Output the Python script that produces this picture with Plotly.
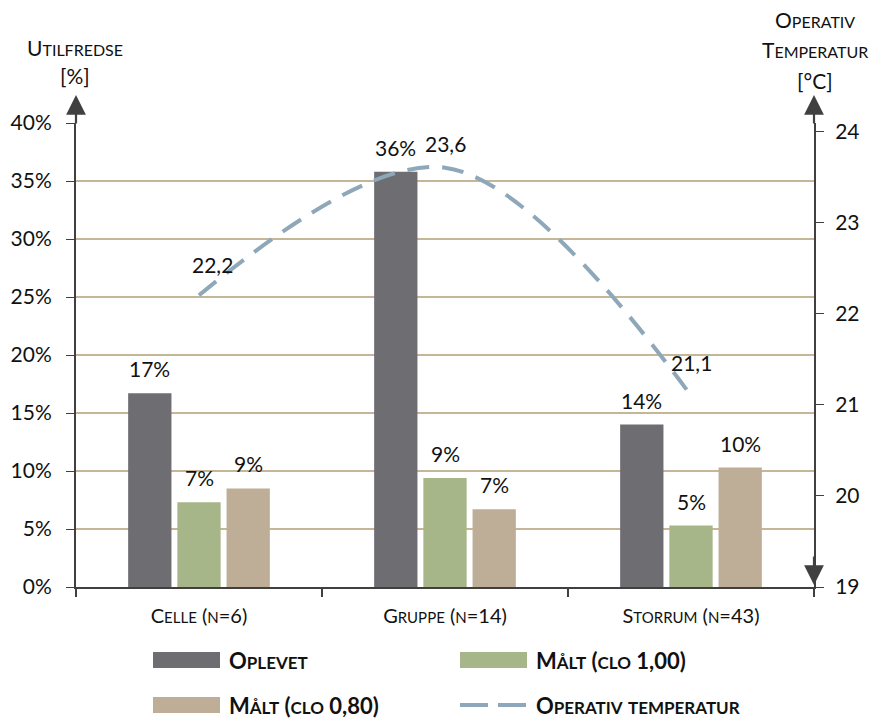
import plotly.graph_objects as go

categories = ["Celle (n=6)", "Gruppe (n=14)", "Storrum (n=43)"]
oplevet = [16.7, 35.8, 14.0]
maalt_100 = [7.3, 9.4, 5.3]
maalt_080 = [8.5, 6.7, 10.3]
op_temp = [22.2, 23.6, 21.1]
series_names = ["Oplevet", "Målt (clo 1,00)", "Målt (clo 0,80)", "Operativ temperatur"]

FONT = "Lato"
DARK = "#6E6D72"
GREEN = "#A6B688"
TAN = "#BEAE98"
LINE = "#8EA8BA"
AXIS = "#404040"
GRID = "#C6B698"
TXT = "#111111"

W, H = 876, 720
ML, MR, MT, MB = 76, 62, 123, 133
PW, PH = W - ML - MR, H - MT - MB


def px(x):
    return (x - ML) / PW


def py(y):
    return (H - MB - y) / PH


def sc(text, small):
    """Render text in small caps using HTML spans."""
    out, run = [], ""
    for ch in text:
        if ch.islower():
            run += ch.upper()
        else:
            if run:
                out.append(f"<span style='font-size:{small}px'>{run}</span>")
                run = ""
            out.append(ch)
    if run:
        out.append(f"<span style='font-size:{small}px'>{run}</span>")
    return "".join(out)


def rnd(v):
    return int(v + 0.5)


fig = go.Figure()
colors = [DARK, GREEN, TAN]
for name, vals, col in zip(series_names[:3], [oplevet, maalt_100, maalt_080], colors):
    fig.add_trace(go.Bar(
        x=categories, y=vals, name=name, showlegend=False,
        marker=dict(color=col, line=dict(width=0)),
    ))

fig.add_trace(go.Scatter(
    x=categories, y=op_temp, yaxis="y2", mode="lines", name=series_names[3],
    showlegend=False,
    line=dict(color=LINE, width=4, dash="22px,13px", shape="spline", smoothing=1.0),
))

annotations = []
shapes = []
bargap = 0.40
w = (1 - bargap) / 3
for j, vals in enumerate([oplevet, maalt_100, maalt_080]):
    for i, v in enumerate(vals):
        annotations.append(dict(
            x=i + (j - 1) * w, y=v, xref="x", yref="y",
            text=f"{rnd(v)}%", showarrow=False, yanchor="bottom",
            yshift=10, font=dict(family=FONT, size=21, color=TXT),
        ))
temp_shift = [(13, 16), (0, 10), (0, 19)]
for i, v in enumerate(op_temp):
    dx, dy = temp_shift[i]
    annotations.append(dict(
        x=i, y=v, xref="x", yref="y2",
        text=f"{v:.1f}".replace(".", ","), showarrow=False, yanchor="bottom",
        xshift=dx, yshift=dy, font=dict(family=FONT, size=21, color=TXT),
    ))

# axis titles, one annotation per line
title_lines = [
    (75, 47, sc("Utilfredse", 16)),
    (75, 75, "[%]"),
    (815, 20, sc("Operativ", 16)),
    (815, 50, sc("Temperatur", 16)),
    (815, 80, "[°C]"),
]
for x, y, t in title_lines:
    annotations.append(dict(
        x=px(x), y=py(y), xref="paper", yref="paper", xanchor="center", yanchor="middle",
        text=t, showarrow=False, font=dict(family=FONT, size=21, color=TXT),
    ))
# axis arrows
for ax_x, ay_tip, ay_off in [(0, py(95), 30), (1, py(95), 30), (1, py(585), -30)]:
    annotations.append(dict(
        x=ax_x, y=ay_tip, xref="paper", yref="paper", ax=0, ay=ay_off,
        text="", showarrow=True, arrowhead=2, arrowsize=1.8, arrowwidth=2.2,
        arrowcolor=AXIS,
    ))

# legend (drawn manually to match the wide swatches)
leg_items = [
    (series_names[0], DARK, 153, 660, "bar"),
    (series_names[1], GREEN, 460, 660, "bar"),
    (series_names[2], TAN, 153, 705, "bar"),
    (series_names[3], LINE, 460, 705, "line"),
]
for name, col, x0, yc, kind in leg_items:
    if kind == "bar":
        shapes.append(dict(
            type="rect", xref="paper", yref="paper",
            x0=px(x0), x1=px(x0 + 67), y0=py(yc + 8), y1=py(yc - 8),
            fillcolor=col, line=dict(width=0),
        ))
    else:
        shapes.append(dict(
            type="line", xref="paper", yref="paper",
            x0=px(x0), x1=px(x0 + 67), y0=py(yc), y1=py(yc),
            line=dict(color=col, width=4, dash="28px,10px"),
        ))
    annotations.append(dict(
        x=px(x0 + 74), y=py(yc), xref="paper", yref="paper", xanchor="left", yanchor="middle",
        text="<b>" + sc(name, 17) + "</b>", showarrow=False,
        font=dict(family=FONT, size=22, color=TXT),
    ))

fig.update_layout(
    width=W, height=H,
    margin=dict(l=ML, r=MR, t=MT, b=MB),
    paper_bgcolor="white", plot_bgcolor="white",
    barmode="group", bargap=bargap, bargroupgap=0.12,
    font=dict(family=FONT, size=20, color=TXT),
    showlegend=False,
    xaxis=dict(
        tickvals=categories, ticktext=[sc(c, 15) for c in categories],
        showline=True, linecolor=AXIS, linewidth=2,
        ticks="outside", tickson="boundaries", ticklen=8, tickcolor=AXIS, tickwidth=1.5,
        tickfont=dict(family=FONT, size=20, color=TXT), ticklabelstandoff=10,
    ),
    yaxis=dict(
        range=[0, 40], dtick=5, ticksuffix="%",
        showline=True, linecolor=AXIS, linewidth=2,
        ticks="outside", ticklen=8, tickcolor=AXIS,
        showgrid=True, gridcolor=GRID, gridwidth=2, zeroline=False,
        tickfont=dict(family=FONT, size=21, color=TXT), ticklabelstandoff=10,
    ),
    yaxis2=dict(
        range=[19, 24.09], dtick=1, overlaying="y", side="right",
        showline=True, linecolor=AXIS, linewidth=2,
        ticks="outside", ticklen=8, tickcolor=AXIS,
        showgrid=False, zeroline=False,
        tickfont=dict(family=FONT, size=21, color=TXT), ticklabelstandoff=7,
    ),
    annotations=annotations,
    shapes=shapes,
)

fig.write_html("out.html")
